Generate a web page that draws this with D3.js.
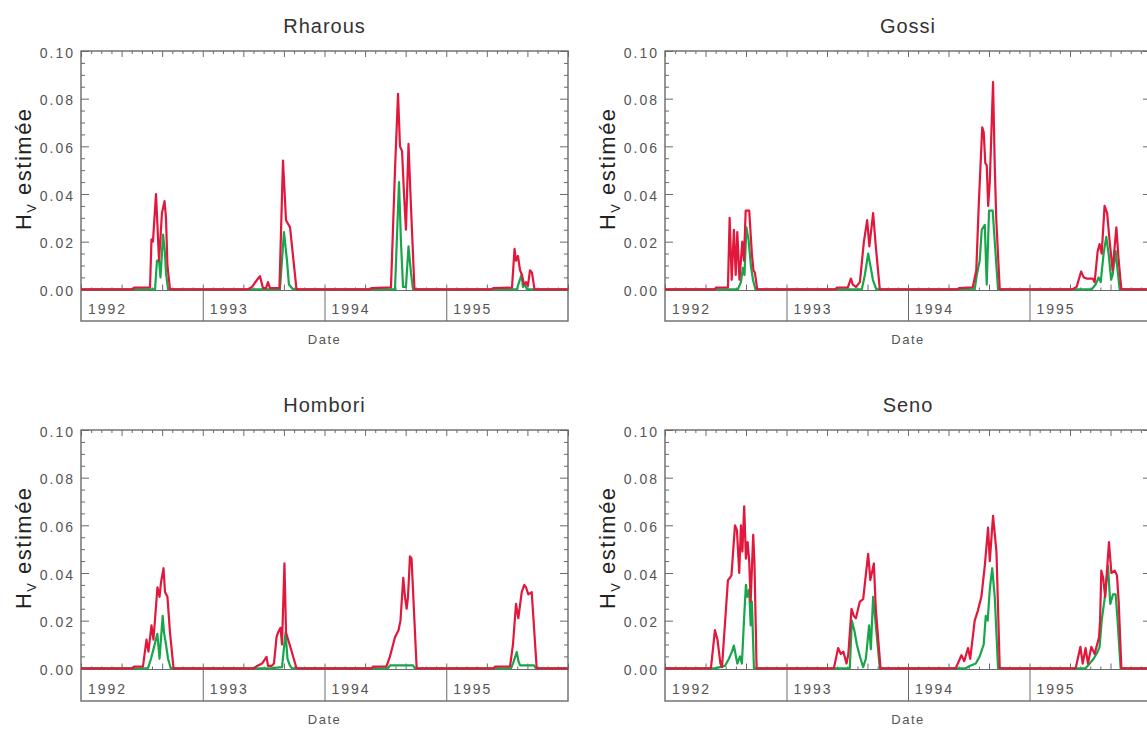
<!DOCTYPE html>
<html><head><meta charset="utf-8">
<script src="https://cdn.jsdelivr.net/npm/d3@7"></script>
<style>
body{margin:0;background:#fff}
svg{display:block}
</style>
</head><body>
<svg id="chart" width="1147" height="729"></svg>
<script>
// ---- data (time in decimal years, H_v value) ----
const siteNames = ["Rharous", "Gossi", "Hombori", "Seno"];
const yearLabels = ["1992", "1993", "1994", "1995"];
const yMajorTicks = [0, 0.02, 0.04, 0.06, 0.08, 0.10];
const yTickLabels = ["0.00", "0.02", "0.04", "0.06", "0.08", "0.10"];
const yMinorTicks = [0.005, 0.01, 0.015, 0.025, 0.03, 0.035, 0.045, 0.05, 0.055, 0.065, 0.07, 0.075, 0.085, 0.09, 0.095];
const xLabel = "Date";

const rharousRed = [[1992,0],[1992.427,0],[1992.435,0.0007],[1992.567,0.0008],[1992.579,0.021],[1992.591,0.020],[1992.616,0.040],[1992.641,0.012],[1992.665,0.032],[1992.686,0.037],[1992.698,0.030],[1992.710,0.010],[1992.731,0],
[1993.372,0],[1993.405,0.001],[1993.446,0.004],[1993.470,0.0055],[1993.495,0.0005],[1993.520,0.0005],[1993.536,0.003],[1993.552,0.0005],[1993.630,0.0005],[1993.659,0.054],[1993.684,0.029],[1993.717,0.026],[1993.770,0],
[1994.374,0],[1994.382,0.0005],[1994.546,0.0008],[1994.579,0.050],[1994.604,0.082],[1994.620,0.060],[1994.637,0.058],[1994.653,0.040],[1994.669,0.025],[1994.690,0.061],[1994.710,0.035],[1994.739,0],
[1995.376,0],[1995.384,0.0005],[1995.540,0.0007],[1995.561,0.017],[1995.573,0.012],[1995.589,0.014],[1995.606,0.008],[1995.622,0.006],[1995.639,0.002],[1995.655,0.003],[1995.671,0.0015],[1995.688,0.008],[1995.704,0.007],[1995.725,0],[1996,0]];
const rharousGreen = [[1992,0],[1992.608,0],[1992.624,0.012],[1992.641,0.012],[1992.653,0.005],[1992.674,0.023],[1992.690,0.015],[1992.698,0.007],[1992.715,0],
[1993.634,0],[1993.667,0.024],[1993.692,0.012],[1993.708,0.002],[1993.741,0],
[1994.579,0],[1994.612,0.045],[1994.628,0.020],[1994.645,0.001],[1994.669,0.001],[1994.690,0.018],[1994.710,0.007],[1994.727,0],
[1995.581,0],[1995.598,0.003],[1995.618,0.006],[1995.630,0.001],[1995.647,0.002],[1995.663,0],[1996,0]];

const gossiRed = [[1992,0],[1992.411,0],[1992.419,0.0007],[1992.518,0.0008],[1992.532,0.030],[1992.549,0.004],[1992.567,0.025],[1992.582,0.006],[1992.595,0.024],[1992.613,0.004],[1992.636,0.020],[1992.650,0.012],[1992.664,0.033],[1992.693,0.033],[1992.715,0.015],[1992.728,0.008],[1992.740,0.007],[1992.759,0],
[1993.406,0],[1993.414,0.0007],[1993.505,0.0008],[1993.530,0.0045],[1993.546,0.002],[1993.571,0.001],[1993.604,0.003],[1993.637,0.020],[1993.664,0.029],[1993.682,0.018],[1993.713,0.032],[1993.735,0.018],[1993.768,0],
[1994.410,0],[1994.418,0.0005],[1994.533,0.0008],[1994.562,0.008],[1994.582,0.035],[1994.611,0.068],[1994.623,0.066],[1994.636,0.053],[1994.648,0.052],[1994.660,0.035],[1994.673,0.045],[1994.700,0.087],[1994.714,0.052],[1994.726,0.030],[1994.755,0],
[1995.355,0],[1995.388,0.001],[1995.425,0.0075],[1995.446,0.005],[1995.470,0.0045],[1995.520,0.0045],[1995.536,0.003],[1995.561,0.016],[1995.577,0.019],[1995.594,0.015],[1995.618,0.035],[1995.639,0.032],[1995.660,0.020],[1995.684,0.008],[1995.715,0.026],[1995.734,0.012],[1995.756,0],[1996,0]];
const gossiGreen = [[1992,0],[1992.600,0],[1992.625,0.003],[1992.641,0.009],[1992.654,0.006],[1992.670,0.026],[1992.687,0.021],[1992.707,0.010],[1992.724,0.004],[1992.744,0],
[1993.620,0],[1993.645,0.006],[1993.672,0.015],[1993.694,0.009],[1993.711,0.004],[1993.739,0],
[1994.549,0],[1994.566,0.006],[1994.590,0.012],[1994.607,0.025],[1994.632,0.027],[1994.648,0.002],[1994.667,0.033],[1994.697,0.033],[1994.714,0.020],[1994.741,0],
[1995.512,0],[1995.544,0.002],[1995.569,0.005],[1995.586,0.003],[1995.610,0.015],[1995.632,0.022],[1995.651,0.015],[1995.672,0.004],[1995.684,0.006],[1995.709,0.016],[1995.725,0.008],[1995.742,0],[1996,0]];

const homboriRed = [[1992,0],[1992.427,0],[1992.435,0.0007],[1992.509,0.0008],[1992.538,0.012],[1992.554,0.007],[1992.579,0.018],[1992.595,0.012],[1992.628,0.034],[1992.645,0.030],[1992.657,0.036],[1992.678,0.042],[1992.690,0.032],[1992.710,0.030],[1992.731,0.015],[1992.760,0],
[1993.421,0],[1993.446,0.001],[1993.487,0.002],[1993.524,0.0048],[1993.536,0.001],[1993.565,0.001],[1993.585,0.002],[1993.606,0.013],[1993.618,0.015],[1993.639,0.017],[1993.651,0.010],[1993.671,0.044],[1993.684,0.015],[1993.725,0.008],[1993.770,0],
[1994.390,0],[1994.398,0.0007],[1994.509,0.0008],[1994.538,0.005],[1994.579,0.013],[1994.608,0.016],[1994.624,0.020],[1994.647,0.038],[1994.661,0.030],[1994.675,0.025],[1994.686,0.030],[1994.702,0.047],[1994.715,0.046],[1994.757,0],
[1995.392,0],[1995.400,0.0007],[1995.524,0.0008],[1995.548,0.010],[1995.573,0.027],[1995.592,0.021],[1995.620,0.032],[1995.641,0.035],[1995.655,0.034],[1995.674,0.031],[1995.702,0.032],[1995.743,0],[1996,0]];
const homboriGreen = [[1992,0],[1992.550,0],[1992.575,0.004],[1992.600,0.009],[1992.627,0.0145],[1992.645,0.004],[1992.671,0.022],[1992.682,0.015],[1992.698,0.010],[1992.715,0.004],[1992.737,0],
[1993.552,0],[1993.651,0.0005],[1993.680,0.015],[1993.696,0.004],[1993.717,0.001],[1993.733,0],
[1994.522,0],[1994.538,0.0012],[1994.727,0.0012],[1994.743,0],
[1995.532,0],[1995.548,0.002],[1995.579,0.0068],[1995.593,0.003],[1995.606,0.0012],[1995.721,0.0012],[1995.737,0],[1996,0]];

const senoRed = [[1992,0],[1992.378,0],[1992.411,0.016],[1992.432,0.012],[1992.456,0.002],[1992.469,0.0005],[1992.502,0.025],[1992.518,0.037],[1992.535,0.038],[1992.547,0.039],[1992.576,0.060],[1992.592,0.058],[1992.611,0.040],[1992.625,0.060],[1992.637,0.049],[1992.652,0.068],[1992.666,0.046],[1992.680,0.053],[1992.693,0.045],[1992.705,0.028],[1992.726,0.056],[1992.736,0.045],[1992.754,0],
[1993.390,0],[1993.425,0.0085],[1993.447,0.006],[1993.468,0.007],[1993.494,0.002],[1993.509,0.006],[1993.535,0.025],[1993.554,0.022],[1993.571,0.021],[1993.604,0.028],[1993.631,0.029],[1993.672,0.048],[1993.690,0.037],[1993.719,0.044],[1993.735,0.025],[1993.774,0],
[1994.393,0],[1994.440,0.0055],[1994.463,0.003],[1994.494,0.0085],[1994.512,0.004],[1994.549,0.020],[1994.574,0.024],[1994.604,0.030],[1994.632,0.043],[1994.659,0.059],[1994.673,0.045],[1994.700,0.064],[1994.728,0.049],[1994.755,0],
[1995.380,0],[1995.419,0.009],[1995.438,0.002],[1995.462,0.0085],[1995.481,0.002],[1995.509,0.009],[1995.536,0.006],[1995.572,0.013],[1995.581,0.020],[1995.591,0.041],[1995.606,0.038],[1995.623,0.030],[1995.654,0.053],[1995.674,0.040],[1995.701,0.041],[1995.720,0.039],[1995.734,0.028],[1995.756,0],[1996,0]];
const senoGreen = [[1992,0],[1992.411,0],[1992.493,0.001],[1992.526,0.004],[1992.551,0.007],[1992.567,0.0095],[1992.595,0.002],[1992.617,0.005],[1992.633,0.002],[1992.650,0.020],[1992.666,0.035],[1992.678,0.030],[1992.693,0.033],[1992.705,0.018],[1992.715,0.028],[1992.732,0],
[1993.521,0],[1993.538,0.020],[1993.558,0.016],[1993.579,0.010],[1993.604,0.005],[1993.631,0.0005],[1993.653,0.004],[1993.680,0.018],[1993.694,0.008],[1993.713,0.030],[1993.735,0.018],[1993.768,0],
[1994.475,0],[1994.508,0.001],[1994.558,0.002],[1994.590,0.005],[1994.623,0.010],[1994.640,0.022],[1994.656,0.020],[1994.673,0.033],[1994.693,0.042],[1994.714,0.030],[1994.741,0],
[1995.462,0],[1995.495,0.002],[1995.528,0.004],[1995.561,0.007],[1995.577,0.009],[1995.594,0.020],[1995.618,0.029],[1995.646,0.043],[1995.665,0.027],[1995.687,0.031],[1995.709,0.031],[1995.725,0.020],[1995.750,0],[1996,0]];

const redSeries = [rharousRed, gossiRed, homboriRed, senoRed];
const greenSeries = [rharousGreen, gossiGreen, homboriGreen, senoGreen];

// ---- layout ----
const RED = "#e2173c", GREEN = "#17a64a", AX = "#6a6a6a", TXT = "#555";
const FONT = "'Liberation Sans', Arial, sans-serif";
const cols = [{x0: 81, x1: 568}, {x0: 665, x1: 1151}];
const rows = [{top: 51, base: 290.5, strip: 321}, {top: 430, base: 669.5, strip: 701}];

const svg = d3.select("#chart");
const monthTicks = d3.range(0, 49).map(m => 1992 + m / 12);
const monthMajor = monthTicks.filter((d, i) => i % 4 === 0);
const monthMinor = monthTicks.filter((d, i) => i % 4 !== 0);

siteNames.forEach((name, i) => {
  const C = cols[i % 2], R = rows[Math.floor(i / 2)];
  const g = svg.append("g");
  const x = d3.scaleLinear().domain([1992, 1996]).range([C.x0, C.x1]);
  const y = d3.scaleLinear().domain([-0.0005, 0.10]).range([R.base, R.top]);

  const line = d3.line().x(d => x(d[0])).y(d => y(d[1]));
  const styleAxis = sel => {
    sel.select(".domain").remove();
    sel.selectAll(".tick line").attr("stroke", AX).attr("stroke-width", 1);
    sel.attr("font-family", FONT);
  };

  // minor/major ticks on all sides
  g.append("g").attr("transform", `translate(${C.x0},0)`)
    .call(d3.axisLeft(y).tickValues(yMinorTicks).tickSize(-4).tickFormat("")).call(styleAxis);
  g.append("g").attr("transform", `translate(${C.x1},0)`)
    .call(d3.axisRight(y).tickValues(yMinorTicks).tickSize(-4).tickFormat("")).call(styleAxis);
  g.append("g").attr("transform", `translate(${C.x1},0)`)
    .call(d3.axisRight(y).tickValues(yMajorTicks).tickSize(-8).tickFormat("")).call(styleAxis);
  const la = g.append("g").attr("transform", `translate(${C.x0},0)`)
    .call(d3.axisLeft(y).tickValues(yMajorTicks).tickSize(-8).tickPadding(6)
      .tickFormat((d, k) => yTickLabels[k])).call(styleAxis);
  la.selectAll("text").attr("font-size", 14).attr("fill", TXT)
    .attr("letter-spacing", "2px").attr("dy", "0.45em");

  [[R.top, d3.axisTop], [R.base, d3.axisBottom]].forEach(([yy, ax]) => {
    g.append("g").attr("transform", `translate(0,${yy})`)
      .call(ax(x).tickValues(monthMinor).tickSize(-3).tickFormat("")).call(styleAxis);
    g.append("g").attr("transform", `translate(0,${yy})`)
      .call(ax(x).tickValues(monthMajor).tickSize(-6).tickFormat("")).call(styleAxis);
  });

  // year dividers in the strip
  g.append("g").attr("transform", `translate(0,${R.base})`)
    .call(d3.axisBottom(x).tickValues([1993, 1994, 1995]).tickSize(R.strip - R.base).tickFormat(""))
    .call(styleAxis);
  g.selectAll(".year").data(yearLabels).join("text")
    .attr("x", (d, k) => x(1992 + k) + 7).attr("y", R.strip - 7)
    .attr("font-family", FONT).attr("font-size", 14).attr("letter-spacing", "2px")
    .attr("fill", TXT).text(d => d);

  // frame
  g.append("rect").attr("x", C.x0).attr("y", R.top).attr("width", C.x1 - C.x0)
    .attr("height", R.strip - R.top).attr("fill", "none").attr("stroke", AX).attr("stroke-width", 1.4);
  g.append("line").attr("x1", C.x0).attr("x2", C.x1).attr("y1", R.base).attr("y2", R.base)
    .attr("stroke", AX).attr("stroke-width", 1.2);

  // series
  g.append("path").datum(greenSeries[i]).attr("d", line).attr("fill", "none")
    .attr("stroke", GREEN).attr("stroke-width", 2.2).attr("stroke-linejoin", "round");
  g.append("path").datum(redSeries[i]).attr("d", line).attr("fill", "none")
    .attr("stroke", RED).attr("stroke-width", 2.2).attr("stroke-linejoin", "round");

  // titles
  const cx = (C.x0 + C.x1) / 2;
  g.append("text").attr("x", cx).attr("y", R.top - 18).attr("text-anchor", "middle")
    .attr("font-family", FONT).attr("font-size", 20).attr("letter-spacing", "1px")
    .attr("fill", "#333").text(name);
  g.append("text").attr("x", cx).attr("y", R.strip + 23).attr("text-anchor", "middle")
    .attr("font-family", FONT).attr("font-size", 13).attr("letter-spacing", "1.5px")
    .attr("fill", TXT).text(xLabel);

  const yl = g.append("text")
    .attr("transform", `translate(${C.x0 - 50},${(R.top + R.base) / 2 - 2}) rotate(-90)`)
    .attr("text-anchor", "middle").attr("font-family", FONT).attr("font-size", 22)
    .attr("letter-spacing", "1.5px").attr("fill", "#222");
  yl.append("tspan").text("H");
  yl.append("tspan").attr("font-size", 13).attr("dy", 5).text("V");
  yl.append("tspan").attr("dy", -5).text(" estimée");
});
</script>
</body></html>
